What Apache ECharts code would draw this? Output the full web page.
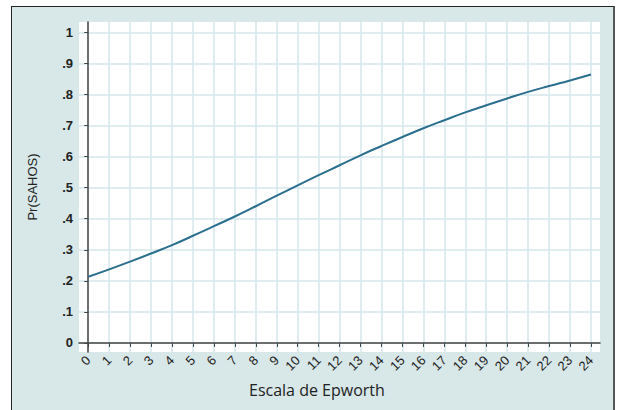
<!DOCTYPE html>
<html>
<head>
<meta charset="utf-8">
<script src="https://cdn.jsdelivr.net/npm/echarts@6/dist/echarts.min.js"></script>
<style>
  html, body { margin: 0; padding: 0; background: #fff; }
  #frame {
    position: absolute; left: 11px; top: 6px; width: 601px; height: 420px;
    background: #d8e7e8;
    border-left: 1.5px solid #222; border-top: 1.5px solid #222; border-right: 2px solid #555;
  }
  #chart { position: absolute; left: 0; top: 0; width: 617px; height: 410px; }
</style>
</head>
<body>
<div id="frame"></div>
<div id="chart"></div>
<script>
// Escala de Epworth (0..24) vs predicted probability
const epworth = [0, 1, 2, 3, 4, 5, 6, 7, 8, 9, 10, 11, 12, 13, 14, 15, 16, 17, 18, 19, 20, 21, 22, 23, 24];
const prSahos = [0.213, 0.237, 0.262, 0.288, 0.315, 0.345, 0.376, 0.407, 0.440, 0.474, 0.507, 0.540,
                 0.572, 0.604, 0.634, 0.663, 0.691, 0.717, 0.742, 0.765, 0.787, 0.808, 0.827, 0.845, 0.864];
const yTicks = [0, 0.1, 0.2, 0.3, 0.4, 0.5, 0.6, 0.7, 0.8, 0.9, 1];
const yTickLabels = ['0', '.1', '.2', '.3', '.4', '.5', '.6', '.7', '.8', '.9', '1'];

const chart = echarts.init(document.getElementById('chart'), null, { renderer: 'svg' });

const fmtY = (v) => {
  const i = yTicks.findIndex(t => Math.abs(t - v) < 1e-6);
  return i >= 0 ? yTickLabels[i] : '';
};

const option = {
  animation: false,
  backgroundColor: 'transparent',
  grid: {
    left: 79, right: 17, top: 22, bottom: 58,
    show: true, backgroundColor: '#ffffff', borderWidth: 0
  },
  xAxis: {
    type: 'value',
    min: -0.44, max: 24.43,
    axisLine: { show: true, lineStyle: { color: '#444', width: 1.5 } },
    axisTick: { show: true, length: 4, customValues: epworth, lineStyle: { color: '#444' } },
    axisLabel: {
      customValues: epworth, rotate: 45, margin: 6,
      color: '#222', fontSize: 13, fontFamily: '"Liberation Sans", Arial'
    },
    splitLine: { show: true, lineStyle: { color: '#d4e7ec', width: 1.5 } }
  },
  yAxis: {
    type: 'value',
    min: -0.029, max: 1.033,
    name: 'Pr(SAHOS)', nameLocation: 'middle', nameGap: 40,
    nameTextStyle: { color: '#222', fontSize: 13, fontFamily: '"Liberation Sans", Arial' },
    axisLine: { show: true, lineStyle: { color: '#444', width: 1.5 } },
    axisTick: { show: true, length: 4, customValues: yTicks, lineStyle: { color: '#444' } },
    axisLabel: {
      customValues: yTicks, formatter: fmtY, margin: 6,
      color: '#222', fontSize: 13, fontWeight: 'bold', fontFamily: '"Liberation Sans", Arial'
    },
    splitLine: { show: true, lineStyle: { color: '#d4e7ec', width: 1.5 } }
  },
  graphic: [{
    type: 'text', left: 249, top: 382,
    style: { text: 'Escala de Epworth', fill: '#222', font: '16px "Open Sans", sans-serif' }
  }],
  series: [{
    type: 'line',
    data: epworth.map((x, i) => [x, prSahos[i]]),
    smooth: true,
    showSymbol: false,
    lineStyle: { color: '#2b6f8e', width: 2 }
  }]
};

chart.setOption(option);
</script>
</body>
</html>
